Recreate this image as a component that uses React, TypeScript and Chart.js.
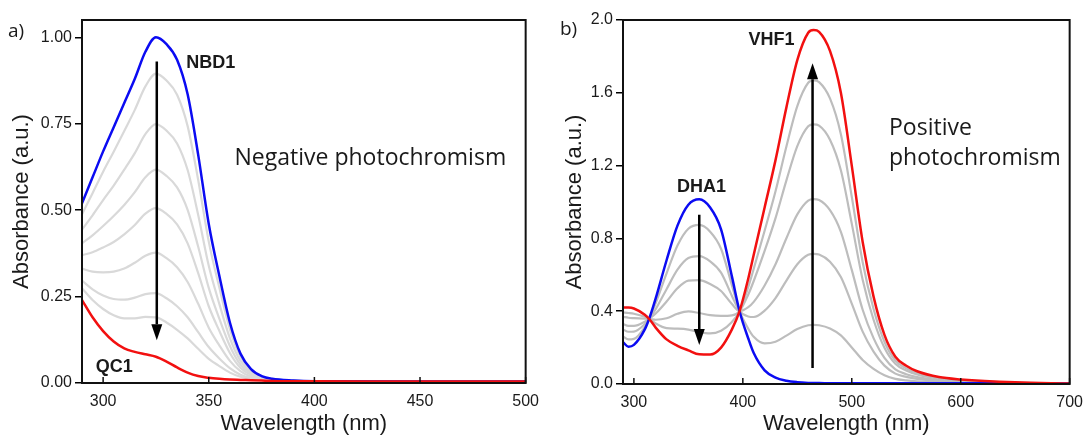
import React, { useEffect, useRef } from 'react';
import { Chart, registerables } from 'chart.js';

Chart.register(...registerables);

// ---------------- Panel a (NBD1 / QC1) ----------------
const waveA = [290, 295, 300, 305, 310, 315, 320, 325, 330, 335, 340, 345, 350, 355, 360, 365, 370, 375, 380, 390, 400, 450, 500];
const nbd1 = [0.52, 0.595, 0.67, 0.74, 0.81, 0.88, 0.958, 1.0, 0.98, 0.935, 0.835, 0.66, 0.46, 0.31, 0.175, 0.085, 0.04, 0.02, 0.012, 0.007, 0.005, 0.004, 0.004];
const qc1 = [0.24, 0.19, 0.15, 0.12, 0.10, 0.09, 0.083, 0.076, 0.062, 0.045, 0.03, 0.02, 0.015, 0.012, 0.01, 0.009, 0.008, 0.007, 0.006, 0.005, 0.005, 0.004, 0.004];
const grayA1 = [0.488, 0.549, 0.611, 0.669, 0.729, 0.790, 0.858, 0.895, 0.875, 0.834, 0.743, 0.587, 0.409, 0.276, 0.156, 0.076, 0.036, 0.019, 0.011, 0.007, 0.005, 0.004, 0.004];
const grayA2 = [0.444, 0.485, 0.529, 0.571, 0.617, 0.665, 0.720, 0.749, 0.730, 0.693, 0.616, 0.486, 0.339, 0.229, 0.130, 0.064, 0.031, 0.016, 0.010, 0.006, 0.005, 0.004, 0.004];
const grayA3 = [0.404, 0.427, 0.454, 0.483, 0.515, 0.552, 0.595, 0.617, 0.599, 0.566, 0.501, 0.394, 0.275, 0.186, 0.107, 0.053, 0.027, 0.015, 0.009, 0.006, 0.005, 0.004, 0.004];
const grayA4 = [0.370, 0.378, 0.392, 0.408, 0.430, 0.457, 0.490, 0.506, 0.489, 0.459, 0.404, 0.318, 0.222, 0.151, 0.087, 0.044, 0.023, 0.013, 0.009, 0.006, 0.005, 0.004, 0.004];
const grayA5 = [0.331, 0.322, 0.320, 0.322, 0.331, 0.348, 0.368, 0.377, 0.361, 0.335, 0.292, 0.229, 0.160, 0.109, 0.064, 0.034, 0.018, 0.011, 0.008, 0.006, 0.005, 0.004, 0.004];
const grayA6 = [0.296, 0.271, 0.253, 0.243, 0.241, 0.247, 0.257, 0.260, 0.245, 0.222, 0.190, 0.147, 0.104, 0.071, 0.043, 0.024, 0.014, 0.010, 0.007, 0.005, 0.005, 0.004, 0.004];
const grayA7 = [0.274, 0.240, 0.214, 0.196, 0.187, 0.187, 0.191, 0.190, 0.175, 0.154, 0.129, 0.099, 0.070, 0.049, 0.030, 0.018, 0.012, 0.009, 0.007, 0.005, 0.005, 0.004, 0.004];
const xTicksA = [300, 350, 400, 450, 500];
const yTicksA = [0, 0.25, 0.5, 0.75, 1.0];

// ---------------- Panel b (DHA1 / VHF1) ----------------
const waveB = [290, 295, 300, 310, 315, 320, 330, 340, 350, 360, 370, 380, 390, 397, 405, 410, 420, 430, 440, 450, 460, 465, 470, 480, 490, 500, 510, 520, 530, 540, 550, 560, 580, 600, 650, 700];
const dha1 = [0.23, 0.205, 0.215, 0.30, 0.375, 0.47, 0.68, 0.87, 0.985, 1.015, 0.97, 0.85, 0.59, 0.40, 0.25, 0.17, 0.075, 0.035, 0.018, 0.010, 0.006, 0.005, 0.005, 0.004, 0.004, 0.004, 0.004, 0.004, 0.004, 0.004, 0.004, 0.004, 0.004, 0.004, 0.003, 0.003];
const vhf1 = [0.42, 0.42, 0.415, 0.38, 0.35, 0.31, 0.245, 0.21, 0.185, 0.163, 0.162, 0.20, 0.30, 0.40, 0.58, 0.71, 0.97, 1.23, 1.52, 1.78, 1.93, 1.945, 1.935, 1.83, 1.60, 1.20, 0.78, 0.48, 0.27, 0.15, 0.10, 0.07, 0.038, 0.025, 0.009, 0.003];
const grayB1 = [0.393, 0.390, 0.386, 0.369, 0.354, 0.333, 0.307, 0.304, 0.299, 0.285, 0.278, 0.293, 0.341, 0.40, 0.533, 0.633, 0.842, 1.059, 1.305, 1.527, 1.655, 1.668, 1.659, 1.569, 1.372, 1.029, 0.669, 0.412, 0.232, 0.129, 0.086, 0.060, 0.033, 0.022, 0.008, 0.003];
const grayB2 = [0.369, 0.364, 0.362, 0.359, 0.357, 0.353, 0.361, 0.386, 0.399, 0.390, 0.378, 0.374, 0.377, 0.40, 0.492, 0.566, 0.731, 0.911, 1.119, 1.307, 1.416, 1.427, 1.420, 1.342, 1.174, 0.881, 0.573, 0.353, 0.199, 0.111, 0.074, 0.052, 0.029, 0.019, 0.007, 0.003];
const grayB3 = [0.329, 0.319, 0.319, 0.342, 0.362, 0.387, 0.453, 0.526, 0.568, 0.571, 0.549, 0.511, 0.439, 0.40, 0.422, 0.451, 0.541, 0.658, 0.801, 0.932, 1.008, 1.016, 1.011, 0.955, 0.836, 0.627, 0.408, 0.252, 0.143, 0.080, 0.054, 0.038, 0.022, 0.015, 0.006, 0.003];
const grayB4 = [0.300, 0.287, 0.288, 0.329, 0.366, 0.411, 0.521, 0.628, 0.692, 0.703, 0.674, 0.612, 0.484, 0.40, 0.371, 0.368, 0.403, 0.472, 0.568, 0.658, 0.710, 0.715, 0.711, 0.672, 0.588, 0.442, 0.288, 0.178, 0.101, 0.057, 0.039, 0.028, 0.016, 0.012, 0.005, 0.003];
const grayB5 = [0.261, 0.245, 0.248, 0.313, 0.371, 0.444, 0.608, 0.761, 0.853, 0.874, 0.837, 0.743, 0.542, 0.40, 0.304, 0.259, 0.223, 0.232, 0.266, 0.302, 0.323, 0.325, 0.323, 0.305, 0.267, 0.201, 0.132, 0.083, 0.048, 0.028, 0.020, 0.015, 0.010, 0.007, 0.004, 0.003];
const xTicksB = [300, 400, 500, 600, 700];
const yTicksB = [0, 0.4, 0.8, 1.2, 1.6, 2.0];

// ---------------- styling ----------------
const FONT = 'Arial, "Liberation Sans", Helvetica, sans-serif';
const ANNOT = '"Open Sans", "Noto Sans", sans-serif';
const TEXT = '#1a1a1a';
const BLUE = '#0b0bf2';
const RED = '#f21010';
const GRAY_A = '#d9d9d9';
const GRAY_B = '#bdbdbd';

type Label = { text: string; x: number; y: number; font: string; pixel?: boolean };
type Arrow = { x: number; from: number; to: number };

function makeDecor(xTicks: number[], arrows: Arrow[], labels: Label[]) {
  return {
    id: 'decor',
    afterDatasetsDraw(chart: any) {
      const { ctx, chartArea: a, scales } = chart;
      const xs = scales.x;
      const ys = scales.y;
      ctx.save();
      ctx.strokeStyle = '#111';
      ctx.lineWidth = 2;
      ctx.strokeRect(a.left, a.top, a.right - a.left, a.bottom - a.top);
      ctx.lineWidth = 1.5;
      for (const t of xTicks) {
        const px = xs.getPixelForValue(t);
        ctx.beginPath();
        ctx.moveTo(px, a.bottom);
        ctx.lineTo(px, a.bottom - 6);
        ctx.stroke();
      }
      ctx.fillStyle = '#000';
      ctx.strokeStyle = '#000';
      for (const ar of arrows) {
        const px = xs.getPixelForValue(ar.x);
        const p0 = ys.getPixelForValue(ar.from);
        const p1 = ys.getPixelForValue(ar.to);
        const dir = p1 > p0 ? 1 : -1;
        const headLen = 16;
        const headW = 5.5;
        ctx.lineWidth = 2.5;
        ctx.beginPath();
        ctx.moveTo(px, p0);
        ctx.lineTo(px, p1 - dir * headLen);
        ctx.stroke();
        ctx.beginPath();
        ctx.moveTo(px, p1);
        ctx.lineTo(px - headW, p1 - dir * headLen);
        ctx.lineTo(px + headW, p1 - dir * headLen);
        ctx.closePath();
        ctx.fill();
      }
      ctx.fillStyle = TEXT;
      ctx.textAlign = 'left';
      ctx.textBaseline = 'alphabetic';
      for (const lb of labels) {
        ctx.font = lb.font;
        const px = lb.pixel ? lb.x : xs.getPixelForValue(lb.x);
        const py = lb.pixel ? lb.y : ys.getPixelForValue(lb.y);
        ctx.fillText(lb.text, px, py);
      }
      ctx.restore();
    },
  };
}

function series(xs: number[], ys: number[], color: string, width: number, order: number) {
  return {
    data: xs.map((x, i) => ({ x, y: ys[i] })),
    borderColor: color,
    backgroundColor: color,
    borderWidth: width,
    pointRadius: 0,
    fill: false,
    cubicInterpolationMode: 'monotone' as const,
    order,
  };
}

type PanelCfg = {
  datasets: any[];
  xMin: number; xMax: number; yMax: number;
  xTicks: number[]; yTicks: number[]; yDigits: number;
  yWidth: number; xHeight: number;
  padRight: number;
  yTitlePad: number;
  decor: any;
};

function buildConfig(c: PanelCfg): any {
  return {
    type: 'line',
    data: { datasets: c.datasets },
    plugins: [c.decor],
    options: {
      responsive: false,
      animation: false,
      events: [],
      layout: { padding: { left: 0, right: c.padRight, top: 20, bottom: 0 } },
      plugins: { legend: { display: false }, tooltip: { enabled: false } },
      scales: {
        x: {
          type: 'linear',
          min: c.xMin,
          max: c.xMax,
          afterBuildTicks: (s: any) => { s.ticks = c.xTicks.map((v) => ({ value: v })); },
          afterFit: (s: any) => { s.height = c.xHeight; },
          grid: { display: true, drawOnChartArea: false, drawTicks: false },
          border: { display: false },
          ticks: {
            font: { family: FONT, size: 16 },
            color: TEXT,
            padding: 9,
            maxRotation: 0,
            minRotation: 0,
            autoSkip: false,
            callback: (v: any) => String(v),
          },
          title: {
            display: true,
            text: 'Wavelength (nm)',
            font: { family: FONT, size: 22 },
            color: TEXT,
            padding: { top: 0, bottom: 1 },
          },
        },
        y: {
          type: 'linear',
          min: 0,
          max: c.yMax,
          afterBuildTicks: (s: any) => { s.ticks = c.yTicks.map((v) => ({ value: v })); },
          afterFit: (s: any) => { s.width = c.yWidth; },
          grid: { display: true, drawOnChartArea: false, drawTicks: true, tickLength: 7, color: '#000', lineWidth: 1.5 },
          border: { display: false },
          ticks: {
            font: { family: FONT, size: 16 },
            color: TEXT,
            padding: 3,
            autoSkip: false,
            callback: (v: any) => Number(v).toFixed(c.yDigits),
          },
          title: {
            display: true,
            text: 'Absorbance (a.u.)',
            font: { family: FONT, size: 22 },
            color: TEXT,
            padding: { top: c.yTitlePad, bottom: 0 },
          },
        },
      },
    },
  };
}

const configA = () =>
  buildConfig({
    datasets: [
      series(waveA, qc1, RED, 2.5, 0),
      series(waveA, nbd1, BLUE, 2.5, 1),
      series(waveA, grayA1, GRAY_A, 2.2, 2),
      series(waveA, grayA2, GRAY_A, 2.2, 3),
      series(waveA, grayA3, GRAY_A, 2.2, 4),
      series(waveA, grayA4, GRAY_A, 2.2, 5),
      series(waveA, grayA5, GRAY_A, 2.2, 6),
      series(waveA, grayA6, GRAY_A, 2.2, 7),
      series(waveA, grayA7, GRAY_A, 2.2, 8),
    ],
    xMin: 290, xMax: 500, yMax: 1.05,
    xTicks: xTicksA, yTicks: yTicksA, yDigits: 2,
    yWidth: 82, xHeight: 55, padRight: 15, yTitlePad: 9,
    decor: makeDecor(
      xTicksA,
      [{ x: 325.4, from: 0.93, to: 0.124 }],
      [
        { text: 'NBD1', x: 339.3, y: 0.91, font: `bold 18px ${FONT}` },
        { text: 'QC1', x: 296.5, y: 0.032, font: `bold 18px ${FONT}` },
        { text: 'Negative photochromism', x: 362.2, y: 0.63, font: `23px ${ANNOT}` },
        { text: 'a)', x: 8, y: 37, font: `19px ${ANNOT}`, pixel: true },
      ]
    ),
  });

const configB = () =>
  buildConfig({
    datasets: [
      series(waveB, vhf1, RED, 2.5, 0),
      series(waveB, dha1, BLUE, 2.5, 1),
      series(waveB, grayB1, GRAY_B, 2.2, 2),
      series(waveB, grayB2, GRAY_B, 2.2, 3),
      series(waveB, grayB3, GRAY_B, 2.2, 4),
      series(waveB, grayB4, GRAY_B, 2.2, 5),
      series(waveB, grayB5, GRAY_B, 2.2, 6),
    ],
    xMin: 290, xMax: 700, yMax: 2.0,
    xTicks: xTicksB, yTicks: yTicksB, yDigits: 1,
    yWidth: 75, xHeight: 54, padRight: 14, yTitlePad: 14,
    decor: makeDecor(
      xTicksB,
      [
        { x: 360, from: 0.93, to: 0.214 },
        { x: 464, from: 0.088, to: 1.762 },
      ],
      [
        { text: 'DHA1', x: 339.6, y: 1.055, font: `bold 18px ${FONT}` },
        { text: 'VHF1', x: 405.3, y: 1.863, font: `bold 18px ${FONT}` },
        { text: 'Positive', x: 534.2, y: 1.368, font: `23px ${ANNOT}` },
        { text: 'photochromism', x: 534.2, y: 1.203, font: `23px ${ANNOT}` },
        { text: 'b)', x: 12, y: 35, font: `19px ${ANNOT}`, pixel: true },
      ]
    ),
  });

function Panel({ make, left, width }: { make: () => any; left: number; width: number }) {
  const ref = useRef<HTMLCanvasElement>(null);
  useEffect(() => {
    if (!ref.current) return;
    const chart = new Chart(ref.current, make());
    return () => chart.destroy();
  }, []);
  return (
    <canvas
      ref={ref}
      width={width}
      height={438}
      style={{ position: 'absolute', left, top: 0, width, height: 438, display: 'block' }}
    />
  );
}

export default function App() {
  return (
    <div style={{ position: 'absolute', left: 0, top: 0, width: 1092, height: 438, background: '#fff', overflow: 'hidden' }}>
      <Panel make={configA} left={0} width={548} />
      <Panel make={configB} left={548} width={544} />
    </div>
  );
}
